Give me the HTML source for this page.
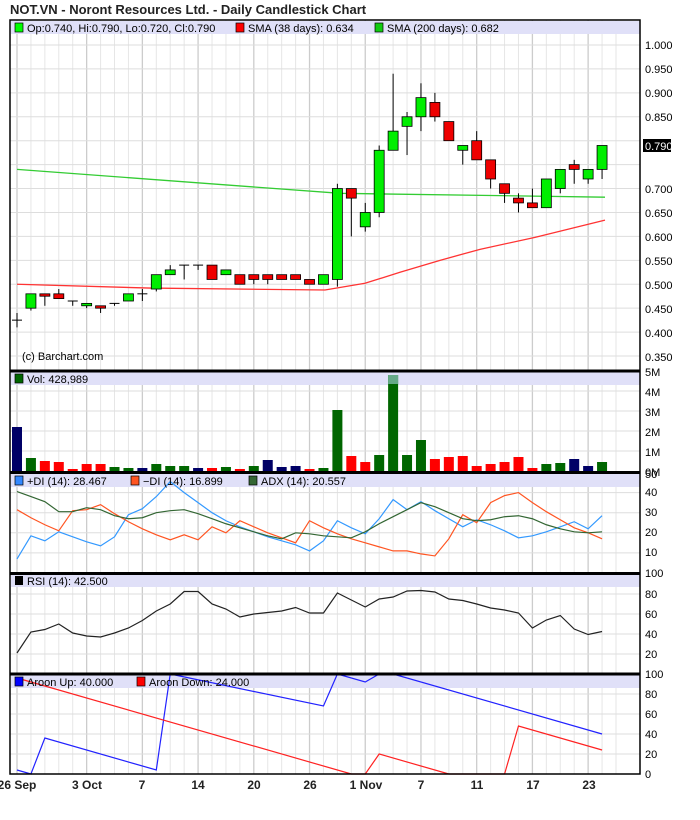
<!DOCTYPE html>
<html><head><meta charset="utf-8"><style>
body{margin:0;background:#fff;width:700px;height:815px;overflow:hidden}
svg{font-family:"Liberation Sans",sans-serif}
</style></head><body>
<svg id="s" width="700" height="815" xmlns="http://www.w3.org/2000/svg">
<text x="10" y="14" font-size="13" font-weight="bold" fill="#222">NOT.VN - Noront Resources Ltd. - Daily Candlestick Chart</text>
<g id="grid"></g>
<g id="bands" fill="#e0e0f8">
<rect x="11" y="21" width="629" height="13"/>
<rect x="11" y="372" width="629" height="13"/>
<rect x="11" y="474" width="629" height="13"/>
<rect x="11" y="574" width="629" height="13"/>
<rect x="11" y="675" width="629" height="13"/>
</g>
<g id="plot"></g>
<g font-size="11" fill="#000">
<rect x="15" y="23" width="8" height="9" fill="#0f0" stroke="#000" stroke-width=".7"/><text x="27" y="32">Op:0.740, Hi:0.790, Lo:0.720, Cl:0.790</text>
<rect x="236" y="23" width="8" height="9" fill="#f00" stroke="#000" stroke-width=".7"/><text x="248" y="32">SMA (38 days): 0.634</text>
<rect x="375" y="23" width="8" height="9" fill="#1c1" stroke="#000" stroke-width=".7"/><text x="387" y="32">SMA (200 days): 0.682</text>
<text x="22" y="360">(c) Barchart.com</text>
<rect x="15" y="374" width="8" height="9" fill="#060" stroke="#000" stroke-width=".7"/><text x="27" y="383">Vol: 428,989</text>
<rect x="15" y="476" width="8" height="9" fill="#38f" stroke="#000" stroke-width=".7"/><text x="27" y="485">+DI (14): 28.467</text>
<rect x="131" y="476" width="8" height="9" fill="#f52" stroke="#000" stroke-width=".7"/><text x="143" y="485">−DI (14): 16.899</text>
<rect x="249" y="476" width="8" height="9" fill="#363" stroke="#000" stroke-width=".7"/><text x="261" y="485">ADX (14): 20.557</text>
<rect x="15" y="576" width="8" height="9" fill="#000"/><text x="27" y="585">RSI (14): 42.500</text>
<rect x="15" y="677" width="8" height="9" fill="#00f" stroke="#000" stroke-width=".7"/><text x="27" y="686">Aroon Up: 40.000</text>
<rect x="137" y="677" width="8" height="9" fill="#f00" stroke="#000" stroke-width=".7"/><text x="149" y="686">Aroon Down: 24.000</text>
</g>
<g font-size="11" fill="#000" id="ax">
<text x="645" y="49">1.000</text><text x="645" y="73">0.950</text><text x="645" y="97">0.900</text><text x="645" y="121">0.850</text>
<rect x="643" y="139" width="28" height="13" fill="#000"/><text x="645" y="150" fill="#fff">0.790</text>
<text x="645" y="193">0.700</text><text x="645" y="217">0.650</text><text x="645" y="241">0.600</text><text x="645" y="265">0.550</text><text x="645" y="289">0.500</text><text x="645" y="313">0.450</text><text x="645" y="337">0.400</text><text x="645" y="361">0.350</text>
<text x="645" y="376">5M</text><text x="645" y="396">4M</text><text x="645" y="416">3M</text><text x="645" y="436">2M</text><text x="645" y="456">1M</text><text x="645" y="476">0M</text>
<text x="645" y="478">50</text><text x="645" y="496">40</text><text x="645" y="516">30</text><text x="645" y="536">20</text><text x="645" y="556">10</text><text x="645" y="577">100</text>
<text x="645" y="598">80</text><text x="645" y="618">60</text><text x="645" y="638">40</text><text x="645" y="658">20</text><text x="645" y="678">100</text>
<text x="645" y="698">80</text><text x="645" y="718">60</text><text x="645" y="738">40</text><text x="645" y="758">20</text><text x="645" y="778">0</text>
</g>
<g font-size="12" font-weight="bold" fill="#222" text-anchor="middle">
<text x="17" y="789">26 Sep</text><text x="87" y="789">3 Oct</text><text x="142" y="789">7</text><text x="198" y="789">14</text><text x="254" y="789">20</text><text x="310" y="789">26</text><text x="366" y="789">1 Nov</text><text x="421" y="789">7</text><text x="477" y="789">11</text><text x="533" y="789">17</text><text x="589" y="789">23</text>
</g>
<g fill="none" stroke="#000">
<rect x="10" y="20" width="630" height="754" stroke-width="1.5"/>
<line x1="10" x2="640" y1="371" y2="371" stroke-width="3"/>
<line x1="10" x2="640" y1="472.5" y2="472.5" stroke-width="3"/>
<line x1="10" x2="640" y1="573.5" y2="573.5" stroke-width="3"/>
<line x1="10" x2="640" y1="674" y2="674" stroke-width="3"/>
</g>
</svg>
<script>
const NS="http://www.w3.org/2000/svg";
function el(p,t,a){const e=document.createElementNS(NS,t);for(const k in a)e.setAttribute(k,a[k]);p.appendChild(e);return e;}
const X=i=>17+13.93*i;
const g=document.getElementById('grid'),pl=document.getElementById('plot');
const majors=[0,5,9,13,17,21,25,29,33,37,41];
for(let i=0;i<44;i++){const x=X(i);el(g,'line',{x1:x,x2:x,y1:20,y2:774,stroke:majors.includes(i)?'#ccc':'#e6e6e6','stroke-width':majors.includes(i)?1.3:1});}
const Y=p=>45+(1-p)*478.5;
for(let p=1.0;p>0.33;p-=0.05)el(g,'line',{x1:10,x2:640,y1:Y(p),y2:Y(p),stroke:'#ddd'});
for(let v=1;v<=5;v++)el(g,'line',{x1:10,x2:640,y1:471-20*v,y2:471-20*v,stroke:'#ddd'});
for(let v=10;v<=40;v+=10)el(g,'line',{x1:10,x2:640,y1:573-2.01*v,y2:573-2.01*v,stroke:'#ddd'});
for(let v=20;v<=80;v+=20){el(g,'line',{x1:10,x2:640,y1:674-v,y2:674-v,stroke:'#ddd'});el(g,'line',{x1:10,x2:640,y1:774-v,y2:774-v,stroke:'#ddd'});}
// candles o,c,h,l
const C=[[.425,.425,.44,.41],[.45,.48,.48,.445],[.48,.475,.48,.455],[.48,.47,.49,.47],[.465,.465,.465,.455],[.455,.46,.46,.45],[.455,.45,.455,.44],[.46,.46,.46,.455],[.465,.48,.48,.465],[.48,.48,.49,.465],[.49,.52,.52,.485],[.52,.53,.54,.52],[.54,.54,.54,.51],[.54,.54,.54,.53],[.54,.51,.54,.51],[.52,.53,.53,.52],[.52,.50,.52,.50],[.52,.51,.52,.50],[.52,.51,.52,.50],[.52,.51,.52,.51],[.52,.51,.52,.51],[.51,.50,.51,.50],[.50,.52,.52,.50],[.51,.70,.71,.495],[.70,.68,.70,.60],[.62,.65,.67,.61],[.65,.78,.79,.64],[.78,.82,.94,.78],[.83,.85,.86,.77],[.85,.89,.92,.82],[.88,.85,.90,.84],[.84,.80,.84,.80],[.78,.79,.79,.75],[.80,.76,.82,.76],[.76,.72,.76,.70],[.71,.69,.71,.67],[.68,.67,.69,.65],[.67,.66,.70,.66],[.66,.72,.72,.66],[.70,.74,.74,.69],[.75,.74,.76,.71],[.72,.74,.74,.71],[.74,.79,.79,.72]];
// SMAs
function line(pts,col,w){el(pl,'polyline',{points:pts.map(p=>p.join(',')).join(' '),fill:'none',stroke:col,'stroke-width':w||1.2});}
line([[17,Y(.74)],[340,Y(.69)],[605,Y(.682)]],'#3c3',1.3);
line([[17,Y(.50)],[150,Y(.492)],[325,Y(.488)],[365,Y(.502)],[400,Y(.525)],[440,Y(.55)],[480,Y(.573)],[535,Y(.598)],[605,Y(.634)]],'#f33',1.3);
C.forEach((c,i)=>{const x=X(i);const[o,cl,h,l]=c;el(pl,'line',{x1:x,x2:x,y1:Y(h),y2:Y(l),stroke:'#000'});
 if(Math.abs(o-cl)<.002){el(pl,'line',{x1:x-5,x2:x+5,y1:Y(o),y2:Y(o),stroke:'#000'});}
 else el(pl,'rect',{x:x-5,y:Y(Math.max(o,cl)),width:10,height:Math.abs(Y(o)-Y(cl)),fill:cl>o?'#0e0':'#e00',stroke:'#000','stroke-width':.8});});
// volume
const V=[[2.2,'n'],[.65,'g'],[.5,'r'],[.45,'r'],[.1,'r'],[.35,'r'],[.35,'r'],[.2,'g'],[.15,'g'],[.15,'n'],[.35,'g'],[.25,'g'],[.25,'g'],[.15,'n'],[.15,'r'],[.2,'g'],[.1,'r'],[.25,'g'],[.55,'n'],[.2,'n'],[.25,'n'],[.1,'r'],[.15,'g'],[3.05,'g'],[.75,'r'],[.45,'r'],[.8,'g'],[4.8,'g'],[.8,'g'],[1.55,'g'],[.6,'r'],[.7,'r'],[.75,'r'],[.25,'r'],[.35,'r'],[.45,'r'],[.7,'r'],[.15,'r'],[.35,'g'],[.4,'g'],[.6,'n'],[.25,'n'],[.45,'g']];
const vc={n:'#006',g:'#060',r:'#f00'};
V.forEach((v,i)=>{const h=v[0]*20;el(pl,'rect',{x:X(i)-5,y:471-h,width:10,height:h,fill:vc[v[1]]});});
el(pl,'rect',{x:X(27)-5,y:375,width:10,height:9,fill:'#6a8'});
function series(a,y0,k,col){line(a.map((v,i)=>[X(i),y0-v*k]),col,1.2);}
series([7,18.5,16,20.5,18,15.5,13.5,18,29,32,38,45.5,40,35,30,26,23,20.5,18,16,14,11,16,26,22.5,19.5,27,36.5,31.5,35.5,31,27,23,26.5,24,21,17.5,18.5,20.5,23,25.5,22,28.5],573,2.01,'#39f');
series([31.5,27.5,24,21,31,31.5,34,29.5,25.5,22,19,16.5,19,16.5,23,20,26,23,20,17.5,15,26,22.5,19.5,17,15,13,11,11,9.5,8.5,17,29,25,35,38.5,40,35,30.5,26.5,22.5,20,17],573,2.01,'#f52');
series([40.5,38,35.5,30.5,30.5,32.5,31.5,28.5,27,27.5,30,31,31.5,29.5,27,24.5,22.5,20.5,18.5,17,20,19.5,18.5,18,17.5,20.5,24.5,28,31.5,35,33,30,27,26,26.5,28,28.5,27,24,22,20.5,20,20.5],573,2.01,'#363');
series([21,42,44.5,50,41,38,37,41,46,53.5,63,70,82.5,82.5,70,65,57,60,61.5,63,66.5,61,61,81,74,67,75,77,83,83.5,82,75,73.5,70,66,64,61,46,54,58.5,45,39.5,42.5],674,1,'#222');
const A=(pts,col)=>line(pts.map(p=>[X(p[0]),774-p[1]]),col,1.2);
A([[0,4],[1,0],[2,36],[10,4],[11,100],[22,68],[23,100],[25,92],[26,100],[27,100],[42,40]],'#22f');
A([[0,96],[24,0],[25,0],[26,20],[31,0],[35,0],[36,48],[42,24]],'#f22');
</script>
</body></html>
